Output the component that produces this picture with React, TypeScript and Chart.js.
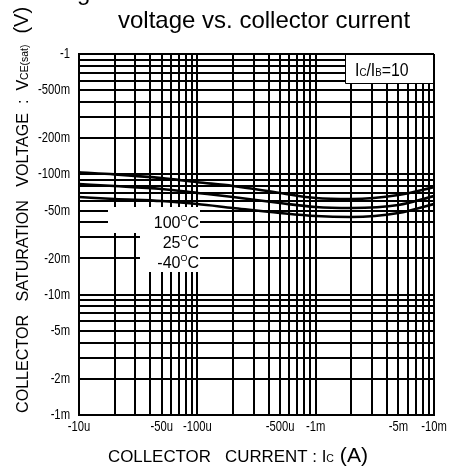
import React, { useEffect, useRef } from 'react';
import { Chart, registerables } from 'chart.js';

Chart.register(...registerables);

// Collector current magnitude (A). The device is PNP, so every axis label carries a minus sign.
const collectorCurrent = [1e-5, 2e-5, 5e-5, 1e-4, 2e-4, 5e-4, 1e-3, 2e-3, 5e-3, 1e-2];
// Collector-emitter saturation voltage magnitude (V)
const vceSat100 = [0.104, 0.1, 0.093, 0.086, 0.08, 0.07, 0.0636, 0.0623, 0.0673, 0.0784];
const vceSat25 = [0.083, 0.08, 0.0755, 0.07, 0.0648, 0.0577, 0.0535, 0.0525, 0.0556, 0.066];
const vceSatM40 = [0.0648, 0.0623, 0.06, 0.0566, 0.0525, 0.0477, 0.045, 0.0442, 0.0477, 0.0566];
const seriesNames = ['100', '25', '-40'];

const xTickValues = [1e-5, 5e-5, 1e-4, 5e-4, 1e-3, 5e-3, 1e-2];
const xTickLabels = ['-10u', '-50u', '-100u', '-500u', '-1m', '-5m', '-10m'];
const yTickValues = [1, 0.5, 0.2, 0.1, 0.05, 0.02, 0.01, 0.005, 0.002, 0.001];
const yTickLabels = ['-1', '-500m', '-200m', '-100m', '-50m', '-20m', '-10m', '-5m', '-2m', '-1m'];

const X_MIN = 1e-5;
const X_MAX = 1e-2;
const Y_MIN = 1e-3;
const Y_MAX = 1;

const SANS = "'Liberation Sans', Arial, sans-serif";
const CONDENSE = 0.8;

function logGrid(min: number, max: number): number[] {
  const out: number[] = [];
  const k0 = Math.floor(Math.log10(min));
  const k1 = Math.ceil(Math.log10(max));
  for (let k = k0; k <= k1; k++) {
    for (let m = 1; m <= 9; m++) {
      const v = Number((m * Math.pow(10, k)).toPrecision(6));
      if (v >= min * 0.9999 && v <= max * 1.0001) out.push(v);
    }
  }
  return out;
}

type Run = { text: string; size: number; dy?: number };

// Draw runs of text, horizontally condensed. If fitWidth is given, the whole line is
// scaled to that width instead of using the fixed condensation.
function drawRuns(
  ctx: CanvasRenderingContext2D,
  runs: Run[],
  x: number,
  y: number,
  align: 'left' | 'center' | 'right' = 'left',
  sx: number = CONDENSE,
  fitWidth?: number
) {
  let natural = 0;
  for (const r of runs) {
    ctx.font = `${r.size}px ${SANS}`;
    natural += ctx.measureText(r.text).width;
  }
  const scale = fitWidth ? fitWidth / natural : sx;
  const total = natural * scale;
  const start = align === 'center' ? x - total / 2 : align === 'right' ? x - total : x;
  ctx.save();
  ctx.translate(start, y);
  ctx.scale(scale, 1);
  let cx = 0;
  for (const r of runs) {
    ctx.font = `${r.size}px ${SANS}`;
    ctx.fillText(r.text, cx, r.dy || 0);
    cx += ctx.measureText(r.text).width;
  }
  ctx.restore();
}

const annotationPlugin = {
  id: 'annotations',
  beforeDatasetsDraw(chart: any) {
    const ctx: CanvasRenderingContext2D = chart.ctx;
    const area = chart.chartArea;
    ctx.save();
    // white backing for temperature labels
    ctx.fillStyle = '#fff';
    ctx.fillRect(108, 207, 92, 26);
    ctx.fillRect(140, 233, 60, 39);
    // Ic/Ib box
    ctx.fillRect(345, area.top + 1, area.right - 346, 29);
    ctx.strokeStyle = '#000';
    ctx.lineWidth = 1;
    ctx.beginPath();
    ctx.moveTo(345.5, area.top);
    ctx.lineTo(345.5, area.top + 29.5);
    ctx.lineTo(area.right, area.top + 29.5);
    ctx.stroke();
    ctx.restore();
  },
  afterDraw(chart: any) {
    const ctx: CanvasRenderingContext2D = chart.ctx;
    const xs = chart.scales.x;
    const ys = chart.scales.y;
    const area = chart.chartArea;
    ctx.save();
    ctx.fillStyle = '#000';
    ctx.textAlign = 'left';

    // Tick labels
    ctx.textBaseline = 'middle';
    yTickValues.forEach((v, i) => {
      drawRuns(ctx, [{ text: yTickLabels[i], size: 15 }], area.left - 9, ys.getPixelForValue(v), 'right', 0.75);
    });
    ctx.textBaseline = 'top';
    xTickValues.forEach((v, i) => {
      drawRuns(ctx, [{ text: xTickLabels[i], size: 15 }], xs.getPixelForValue(v), area.bottom + 4, 'center', 0.75);
    });

    ctx.textBaseline = 'alphabetic';
    // Title (first line is cut off by the top edge)
    ctx.font = `24px ${SANS}`;
    ctx.fillText('Fig.5 Collector-emitter saturation', 57, 0);
    ctx.fillText('voltage vs. collector current', 118, 28);

    // Ic/Ib label
    drawRuns(ctx, [
      { text: 'I', size: 18 },
      { text: 'C', size: 11 },
      { text: '/I', size: 18 },
      { text: 'B', size: 11 },
      { text: '=10', size: 18 },
    ], 355, 76, 'left', 0.88);

    // Temperature labels
    const tempY = [228, 248, 268];
    seriesNames.forEach((t, i) => {
      drawRuns(ctx, [
        { text: t, size: 16 },
        { text: 'O', size: 9, dy: -7 },
        { text: 'C', size: 16 },
      ], 199, tempY[i], 'right', 1);
    });

    // X axis title
    drawRuns(ctx, [
      { text: 'COLLECTOR   CURRENT : I', size: 16 },
      { text: 'C', size: 10 },
      { text: ' (A)', size: 20 },
    ], 238, 462, 'center', CONDENSE, 260);

    // Y axis title (rotated)
    ctx.translate(28, 413);
    ctx.rotate(-Math.PI / 2);
    drawRuns(ctx, [
      { text: 'COLLECTOR   SATURATION   VOLTAGE  :  V', size: 17 },
      { text: 'CE(sat)', size: 11 },
      { text: '  (V)', size: 21 },
    ], 0, 0, 'left', CONDENSE, 406);
    ctx.restore();
  },
};

export default function App() {
  const canvasRef = useRef<HTMLCanvasElement | null>(null);

  useEffect(() => {
    const canvas = canvasRef.current;
    if (!canvas) return;
    const mk = (vals: number[], name: string) => ({
      label: name,
      data: collectorCurrent.map((c, i) => ({ x: c, y: vals[i] })),
      borderColor: '#000',
      backgroundColor: '#000',
      borderWidth: 2.6,
      pointRadius: 0,
      fill: false,
      cubicInterpolationMode: 'monotone' as const,
    });
    const gridStyle = { color: '#000', lineWidth: 2, drawTicks: false };
    const chart = new Chart(canvas, {
      type: 'line',
      data: {
        datasets: [mk(vceSat100, seriesNames[0]), mk(vceSat25, seriesNames[1]), mk(vceSatM40, seriesNames[2])],
      },
      options: {
        animation: false,
        responsive: false,
        devicePixelRatio: 1,
        layout: { padding: { left: 0, right: 17, top: 54, bottom: 0 } },
        plugins: { legend: { display: false }, tooltip: { enabled: false }, title: { display: false } },
        scales: {
          x: {
            type: 'logarithmic',
            min: X_MIN,
            max: X_MAX,
            grid: gridStyle,
            border: { color: '#000', width: 2 },
            ticks: {
              autoSkip: false,
              maxRotation: 0,
              minRotation: 0,
              font: { size: 12 },
              callback: () => '',
            },
            afterBuildTicks: (s: any) => {
              s.ticks = logGrid(X_MIN, X_MAX).map((v) => ({ value: v }));
            },
            afterFit: (s: any) => {
              s.height = 60;
            },
          },
          y: {
            type: 'logarithmic',
            min: Y_MIN,
            max: Y_MAX,
            grid: gridStyle,
            border: { color: '#000', width: 2 },
            ticks: {
              autoSkip: false,
              font: { size: 12 },
              callback: () => '',
            },
            afterBuildTicks: (s: any) => {
              s.ticks = logGrid(Y_MIN, Y_MAX).map((v) => ({ value: v }));
            },
            afterFit: (s: any) => {
              s.width = 79;
            },
          },
        },
      },
      plugins: [annotationPlugin],
    });
    return () => chart.destroy();
  }, []);

  return (
    <div style={{ position: 'absolute', left: 0, top: 0, width: 451, height: 475, background: '#fff' }}>
      <canvas ref={canvasRef} width={451} height={475} style={{ display: 'block' }} />
    </div>
  );
}
